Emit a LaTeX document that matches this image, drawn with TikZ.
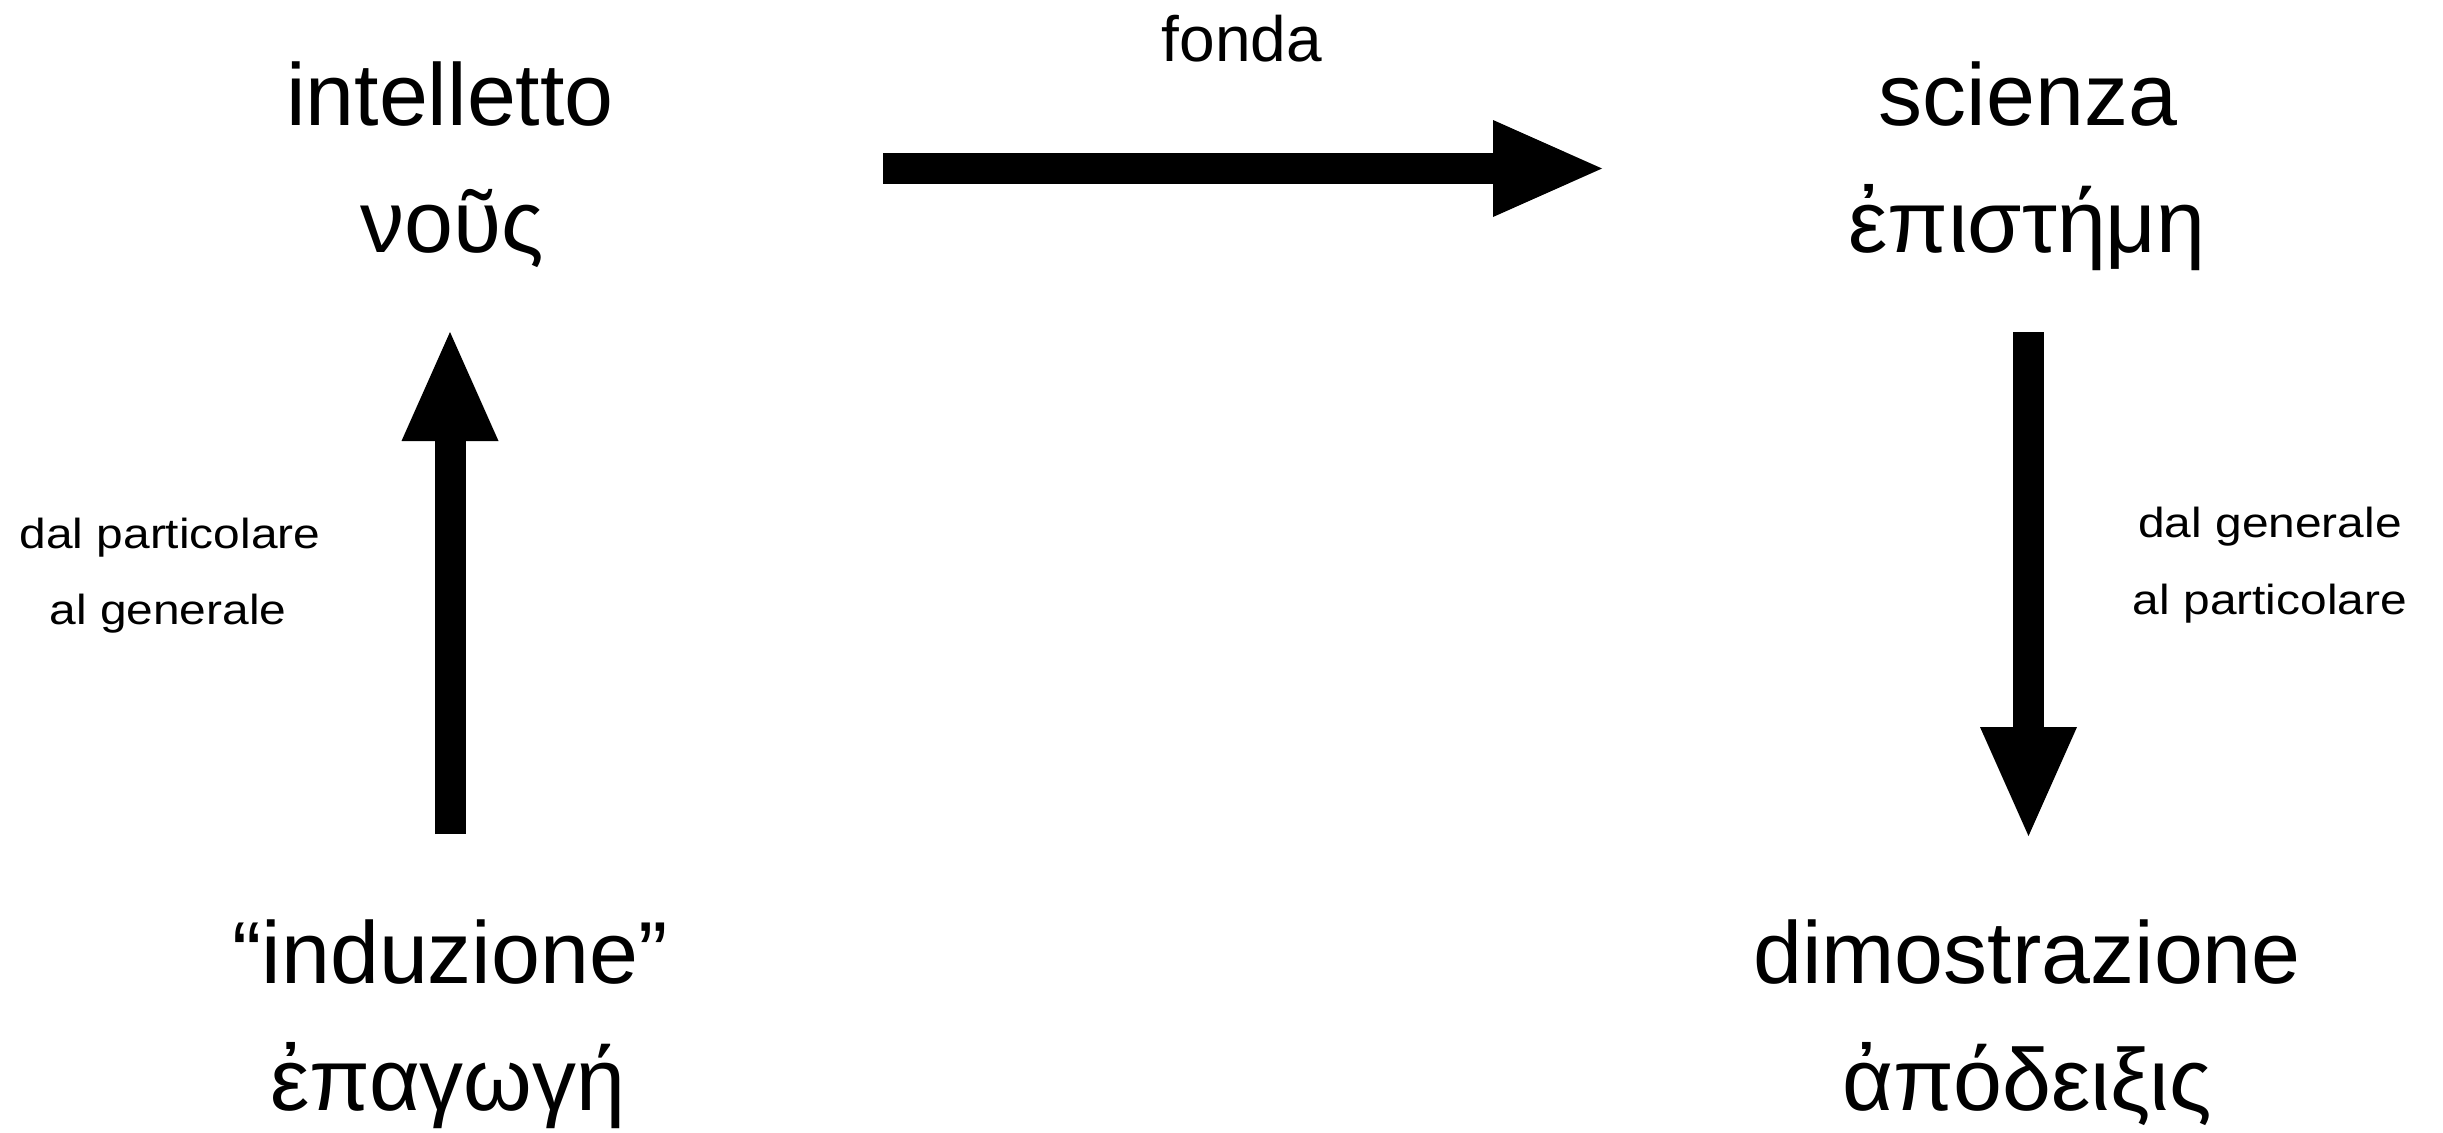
\documentclass[tikz,border=0pt]{standalone}
\usepackage{fontspec}
\setmainfont{Liberation Sans}
\usetikzlibrary{arrows.meta}
\begin{document}
\begin{tikzpicture}[x=1pt,y=-1pt,
  big/.style={anchor=base,inner sep=0pt,font=\fontsize{88}{100}\selectfont},
  mid/.style={anchor=base,inner sep=0pt,font=\fontsize{64}{70}\selectfont},
  small/.style={anchor=base,inner sep=0pt,font=\fontsize{42}{50}\selectfont},
  bigarrow/.style={line width=31pt,-{Triangle[length=109pt,width=97pt,line width=0pt]}}]
\useasboundingbox (0,0) rectangle (2443,1132);
% concepts
\node[big] (intel) at (450,125) {intelletto};
\node[big] (nous) at (452,252) {νοῦς};
\node[big] (sci) at (2028,125) {scienza};
\node[big] (epist) at (2027,252) {ἐπιστήμη};
\node[big] (ind) at (450,983) {“induzione”};
\node[big] (epag) at (448,1110) {ἐπαγωγή};
\node[big] (dim) at (2027,983) {dimostrazione};
\node[big] (apod) at (2027,1110) {ἀπόδειξις};
% labels
\node[mid] (fonda) at (1242,62) {fonda};
\node[small] (la) at (170,548) {\scalebox{1.14}[1]{dal particolare}};
\node[small] (lb) at (168,624) {\scalebox{1.14}[1]{al generale}};
\node[small] (ra) at (2270,537) {\scalebox{1.14}[1]{dal generale}};
\node[small] (rb) at (2270,614) {\scalebox{1.14}[1]{al particolare}};
% arrow ends
\coordinate (h1) at (883,168.5);
\coordinate (h2) at (1602,168.5);
\coordinate (u1) at (450,834);
\coordinate (u2) at (450,332);
\coordinate (d1) at (2028.5,332);
\coordinate (d2) at (2028.5,836);
\draw[bigarrow] (h1) -- (h2);
\draw[bigarrow] (u1) -- (u2);
\draw[bigarrow] (d1) -- (d2);
\end{tikzpicture}
\end{document}
